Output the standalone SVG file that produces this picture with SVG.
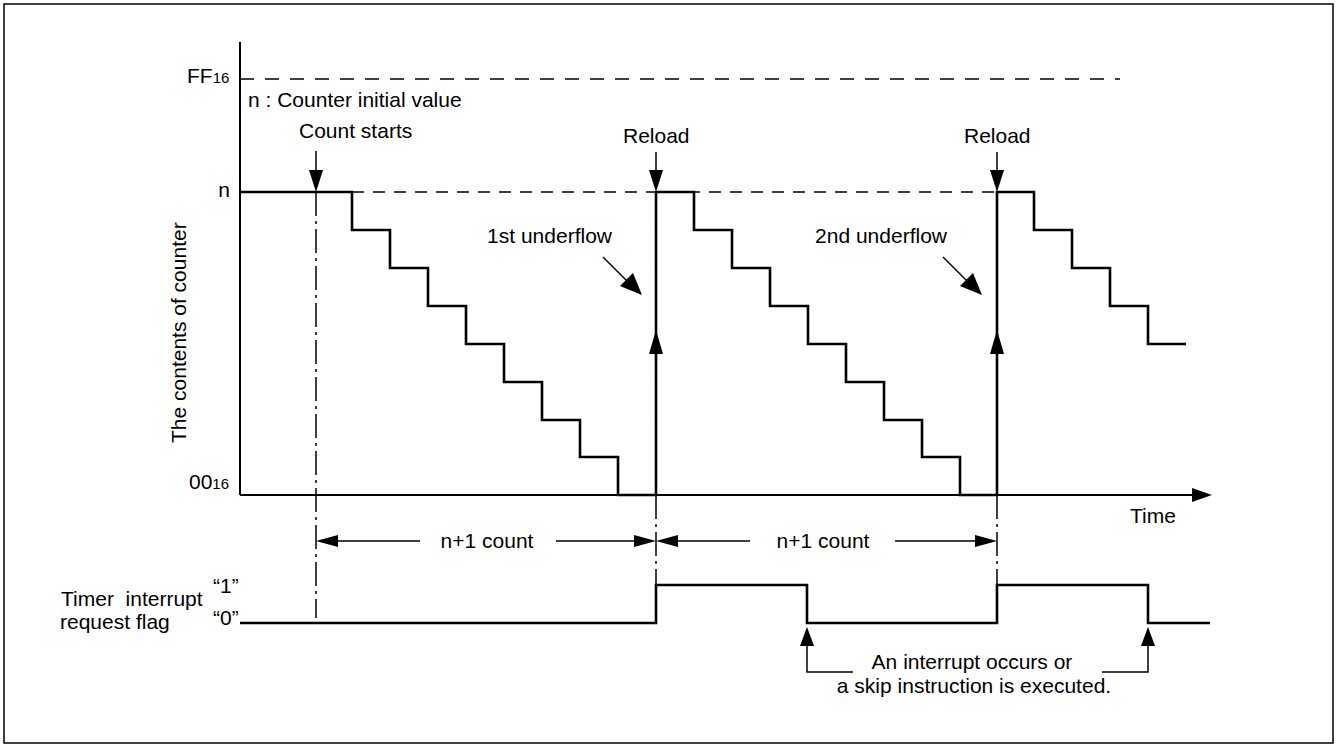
<svg xmlns="http://www.w3.org/2000/svg" width="1337" height="747" viewBox="0 0 1337 747">
<defs>
<style>
text{font-family:"Liberation Sans",Arial,sans-serif;font-size:21px;fill:#000}
.sub{font-size:15px}
.ax{stroke:#000;stroke-width:2;fill:none}
.sig{stroke:#000;stroke-width:2.6;fill:none;stroke-linejoin:miter}
.dash{stroke:#000;stroke-width:1.5;fill:none;stroke-dasharray:14 11}
.dashn{stroke:#000;stroke-width:1.5;fill:none;stroke-dasharray:12 9}
.dd{stroke:#000;stroke-width:1.5;fill:none;stroke-dasharray:24 5 3 5}
.thin{stroke:#000;stroke-width:1.5;fill:none}
.ah{fill:#000;stroke:none}
</style>
</defs>
<rect x="4" y="4" width="1329" height="739" fill="#fff" stroke="#000" stroke-width="1.5"/>

<g id="axes">
<line class="ax" x1="240" y1="42" x2="240" y2="495"/>
<line class="ax" x1="240" y1="495" x2="1196" y2="495"/>
<polygon class="ah" points="1212,495 1192,488 1192,502"/>
<text x="1130" y="523">Time</text>
<text x="171" y="443" transform="rotate(-90 186 443)" dx="15" dy="0">The contents of counter</text>
</g>

<g id="levels">
<line class="dash" x1="240" y1="79" x2="1120" y2="79"/>
<text x="187" y="83">FF<tspan class="sub" dy="0">16</tspan></text>
<text x="230" y="197" text-anchor="end">n</text>
<text x="189" y="489">00<tspan class="sub">16</tspan></text>
<line class="dashn" x1="352" y1="192" x2="997" y2="192"/>
<text x="248" y="107">n : Counter initial value</text>
</g>

<g id="counter">
<polyline class="sig" points="240,192 352,192 352,230 390,230 390,268 428,268 428,306 466,306 466,344 504,344 504,382 542,382 542,420 580,420 580,457 618,457 618,495 656,495 656,192 694,192 694,230 732,230 732,268 770,268 770,306 808,306 808,344 846,344 846,382 884,382 884,420 922,420 922,457 960,457 960,495 997,495 997,192 1034,192 1034,230 1072,230 1072,268 1110,268 1110,306 1148,306 1148,344 1186,344"/>
<polygon class="ah" points="656,330 649,354 663,354"/>
<polygon class="ah" points="997,330 990,354 1004,354"/>
</g>

<g id="count-starts">
<text x="299" y="138">Count starts</text>
<line class="thin" x1="316" y1="151" x2="316" y2="175"/>
<polygon class="ah" points="316,192 309,170 323,170"/>
</g>

<g id="reload1">
<text x="623" y="143">Reload</text>
<line class="thin" x1="656" y1="152" x2="656" y2="175"/>
<polygon class="ah" points="656,192 649,170 663,170"/>
</g>

<g id="reload2">
<text x="964" y="143">Reload</text>
<line class="thin" x1="997" y1="152" x2="997" y2="175"/>
<polygon class="ah" points="997,192 990,170 1004,170"/>
</g>

<g id="underflow1">
<text x="612" y="243" text-anchor="end">1st underflow</text>
<line class="thin" x1="603" y1="257" x2="630" y2="284"/>
<polygon class="ah" points="642,295 620,286 633,273"/>
</g>

<g id="underflow2">
<text x="947" y="243" text-anchor="end">2nd underflow</text>
<line class="thin" x1="943" y1="257" x2="970" y2="284"/>
<polygon class="ah" points="982,295 960,286 973,273"/>
</g>

<g id="connectors">
<line class="dd" x1="316" y1="192" x2="316" y2="618"/>
<line class="dd" x1="656" y1="495" x2="656" y2="585"/>
<line class="dd" x1="997" y1="495" x2="997" y2="585"/>
<line class="thin" x1="330" y1="541" x2="420" y2="541"/>
<line class="thin" x1="556" y1="541" x2="642" y2="541"/>
<polygon class="ah" points="316,541 338,535 338,547"/>
<polygon class="ah" points="656,541 634,535 634,547"/>
<line class="thin" x1="670" y1="541" x2="750" y2="541"/>
<line class="thin" x1="895" y1="541" x2="983" y2="541"/>
<polygon class="ah" points="656,541 678,535 678,547"/>
<polygon class="ah" points="997,541 975,535 975,547"/>
<polyline class="thin" points="853,672 807,672 807,642"/>
<polygon class="ah" points="807,627 800,646 814,646"/>
<polyline class="thin" points="1102,672 1148,672 1148,642"/>
<polygon class="ah" points="1148,627 1141,646 1155,646"/>
</g>

<g id="dim-labels">
<text x="487" y="548" text-anchor="middle">n+1 count</text>
<text x="823" y="548" text-anchor="middle">n+1 count</text>
</g>

<g id="flag">
<text x="61" y="606" xml:space="preserve">Timer  interrupt</text>
<text x="60" y="629">request flag</text>
<text x="213" y="593">“1”</text>
<text x="213" y="625">“0”</text>
<polyline class="sig" points="240,623 656,623 656,585 807,585 807,623 997,623 997,585 1148,585 1148,623 1210,623"/>
</g>

<g id="interrupt-note">
<text x="972" y="669" text-anchor="middle">An interrupt occurs or</text>
<text x="974" y="693" text-anchor="middle">a skip instruction is executed.</text>
</g>
</svg>
